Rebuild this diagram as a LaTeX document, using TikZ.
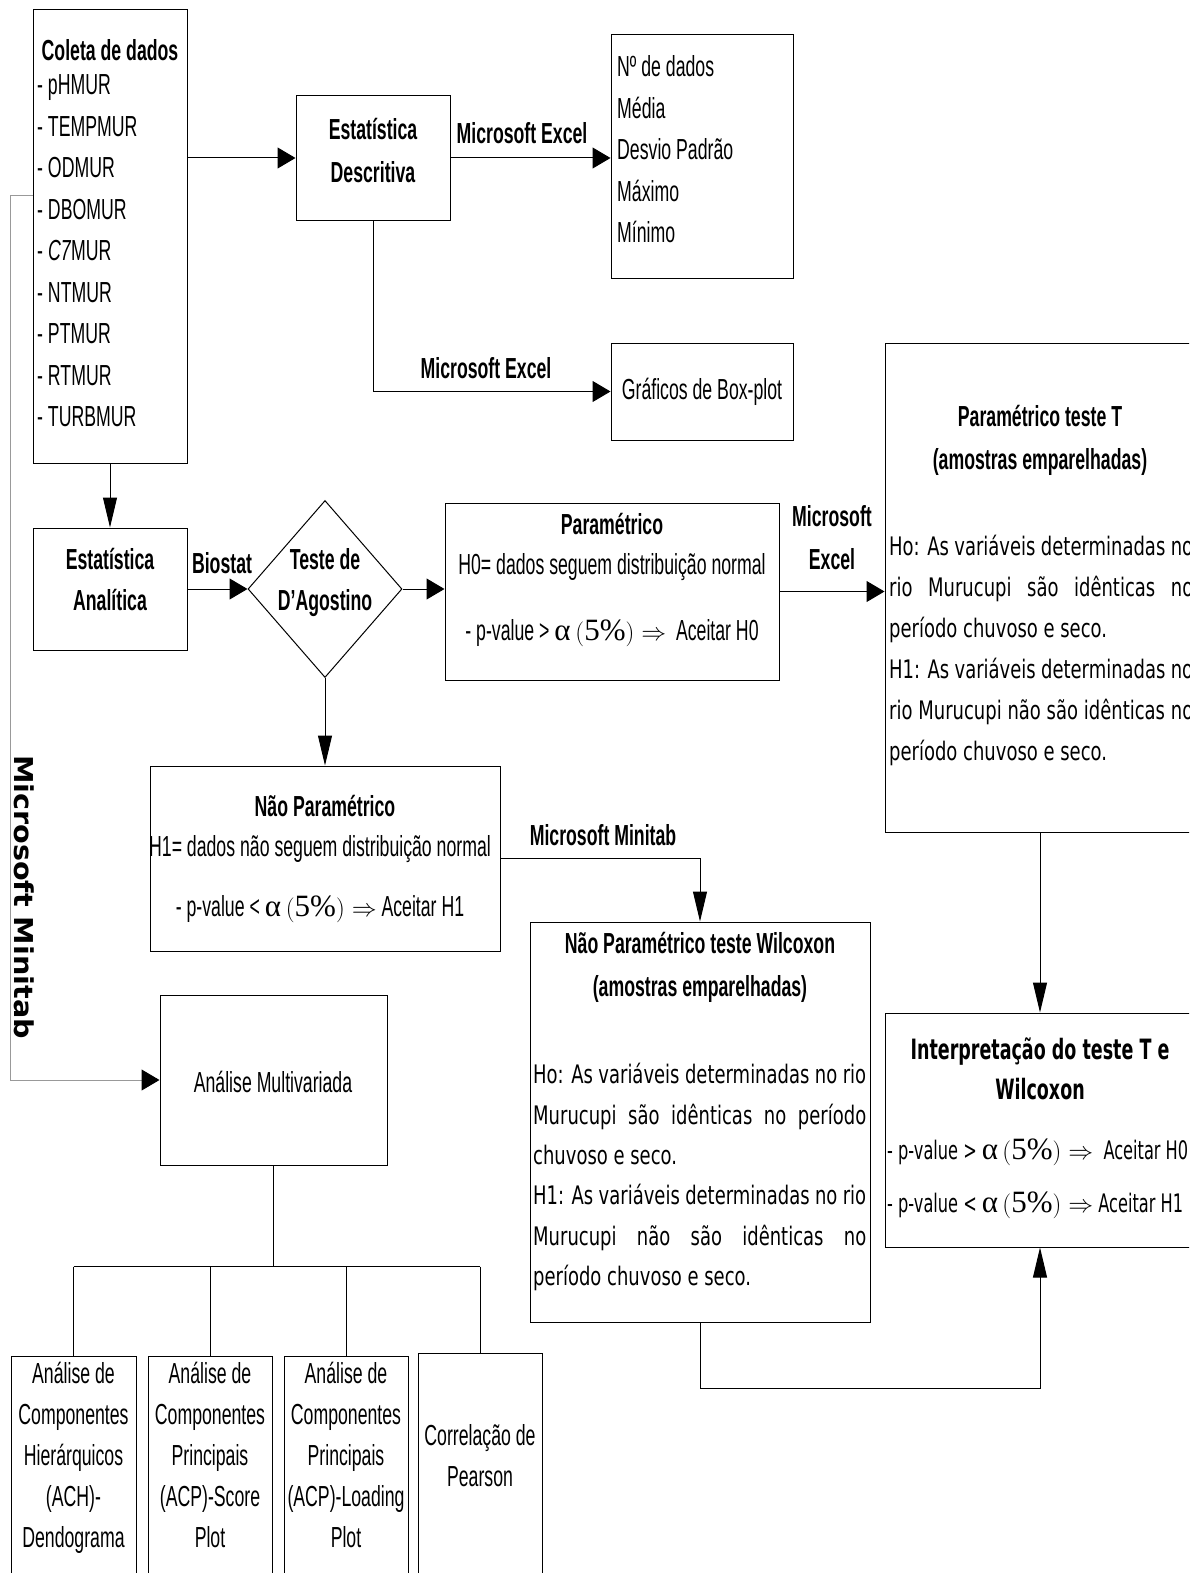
\documentclass[tikz,border=0pt]{standalone}
\usepackage{fontspec}
\setmainfont[FakeStretch=0.61]{Liberation Sans}
\newfontfamily\tahfam[FakeStretch=0.705]{DejaVu Sans}
\newfontfamily\tahnfam[FakeStretch=0.635]{DejaVu Sans}
\newfontfamily\tahbfam[FakeStretch=0.625]{DejaVu Sans}
\newfontfamily\widefam[FakeStretch=1.1]{DejaVu Sans}
\newfontfamily\tms{Liberation Serif}
\usetikzlibrary{arrows.meta,shapes.geometric}

% font shortcuts
\newcommand\fr{\fontsize{29}{34}\selectfont}
\newcommand\fb{\fontsize{29}{34}\selectfont\bfseries}
\newcommand\ft{\tahfam\fontsize{25.5}{30}\selectfont}
\newcommand\ftn{\tahnfam\fontsize{25.5}{30}\selectfont}
\newcommand\ftb{\tahbfam\bfseries\fontsize{28}{33}\selectfont}
% significance condition: alpha (5%) =>
\newcommand\pc{{\tms\fontsize{31}{34}\selectfont α}\,$\bigl(${\tms\fontsize{31}{34}\selectfont 5\%}$\bigr)\Rightarrow$}
% justified line of a given width
\newcommand\jl[2][333pt]{\makebox[#1][s]{#2}}
% a column of text lines: name, anchor, x, first y, step, font, lines
\newcommand\txtlines[7]{%
  \foreach \s [count=\k] in {#7}{%
    \node[tl,anchor=#2,font=#6] (#1-\k) at ({#3},{#4+(\k-1)*#5}) {\s};}}

\tikzset{
  box/.style={draw, rectangle, inner sep=0pt, line width=1pt},
  tl/.style={inner sep=0pt},
  ln/.style={line width=1pt},
  harr/.style={ln, -{Triangle[length=18pt,width=21pt,color=black]}},
  varr/.style={ln, -{Triangle[length=30pt,width=14pt,color=black]}},
}

\begin{document}
\begin{tikzpicture}[x=1pt,y=-1pt]
\useasboundingbox (0,0) rectangle (1189,1573);
\clip (0,0) rectangle (1189,1573);

% boxes
\node[box, minimum width=154pt, minimum height=453pt] (coleta) at (110,236.5) {};
\node[box, minimum width=154pt, minimum height=124pt] (descr) at (373,158) {};
\node[box, minimum width=182pt, minimum height=243pt] (stats) at (702,156.5) {};
\node[box, minimum width=182pt, minimum height=97pt] (boxplot) at (702,391.5) {};
\node[box, minimum width=310pt, minimum height=489pt] (tbox) at (1040,587.5) {};
\node[box, minimum width=154pt, minimum height=122pt] (analit) at (110,589) {};
\node[draw, diamond, line width=1pt, inner sep=0pt, minimum width=154pt, minimum height=177pt] (diam) at (325,589) {};
\node[box, minimum width=334pt, minimum height=177pt] (param) at (612,591.5) {};
\node[box, minimum width=350pt, minimum height=185pt] (naop) at (325,858.5) {};
\node[box, minimum width=340pt, minimum height=400pt] (wilc) at (700,1122) {};
\node[box, minimum width=310pt, minimum height=234pt] (interp) at (1040,1130) {};
\node[box, minimum width=227pt, minimum height=170pt] (multi) at (273.5,1080) {};
\node[box, minimum width=125pt, minimum height=244pt] (b1) at (73.5,1478) {};
\node[box, minimum width=124pt, minimum height=244pt] (b2) at (210,1478) {};
\node[box, minimum width=124pt, minimum height=244pt] (b3) at (346,1478) {};
\node[box, minimum width=124pt, minimum height=247pt] (b4) at (480,1476.5) {};

% texts
\node[tl,font=\fb] (coleta-t) at (110,50) {Coleta de dados};
\txtlines{col}{mid west}{37}{92}{41.5}{\fr}{{- pHMUR},{- TEMPMUR},{- ODMUR},{- DBOMUR},{- \textit{C7}MUR},{- NTMUR},{- PTMUR},{- RTMUR},{- TURBMUR}}
\txtlines{des}{mid}{373}{137}{43}{\fb}{{Estatística},{Descritiva}}
\txtlines{st}{mid west}{617}{74}{41.5}{\fr}{{Nº de dados},{Média},{Desvio Padrão},{Máximo},{Mínimo}}
\node[tl,font=\fr] (boxplot-t) at (boxplot) {Gráficos de Box-plot};
\txtlines{tt}{mid}{1040}{424}{43}{\fb}{{Paramétrico teste T},{(amostras emparelhadas)}}
\txtlines{tp}{mid west}{889}{553}{41}{\ft}{{\jl[304pt]{Ho: As variáveis determinadas no}},{\jl[304pt]{rio Murucupi são idênticas no}},{período chuvoso e seco.},{\jl[304pt]{H1: As variáveis determinadas no}},{\jl[304pt]{rio Murucupi não são idênticas no}},{período chuvoso e seco.}}
\txtlines{an}{mid}{110}{567}{41}{\fb}{{Estatística},{Analítica}}
\txtlines{dg}{mid}{325}{567}{41}{\fb}{{Teste de},{D’Agostino}}
\node[tl,font=\fb] (pa-1) at (612,524) {Paramétrico};
\node[tl,font=\fr] (pa-2) at (612,567) {H0= dados seguem distribuição normal};
\node[tl,font=\fr] (pa-3) at (612,633) {- p-value > \pc\ \ Aceitar H0};
\node[tl,font=\fb] (np-1) at (325,806) {Não Paramétrico};
\node[tl,font=\fr] (np-2) at (320,849) {H1= dados não seguem distribuição normal};
\node[tl,font=\fr] (np-3) at (320,909) {- p-value < \pc\ Aceitar H1};
\txtlines{wt}{mid}{700}{951}{43}{\fb}{{Não Paramétrico teste Wilcoxon},{(amostras emparelhadas)}}
\txtlines{wp}{mid west}{533}{1081}{40.4}{\ft}{{\jl{Ho: As variáveis determinadas no rio}},{\jl{Murucupi são idênticas no período}},{chuvoso e seco.},{\jl{H1: As variáveis determinadas no rio}},{\jl{Murucupi não são idênticas no}},{período chuvoso e seco.}}
\txtlines{it}{mid}{1040}{1057}{40}{\ftb}{{Interpretação do teste T e},{Wilcoxon}}
\txtlines{ip}{mid west}{887}{1157}{53}{\ftn}{{- p-value > \pc\ \ Aceitar H0},{- p-value < \pc\ Aceitar H1}}
\node[tl,font=\fr] (multi-t) at (273,1082) {Análise Multivariada};
\txtlines{c1}{mid}{73.5}{1381}{41}{\fr}{{Análise de},{Componentes},{Hierárquicos},{(ACH)-},{Dendograma}}
\txtlines{c2}{mid}{210}{1381}{41}{\fr}{{Análise de},{Componentes},{Principais},{(ACP)-Score},{Plot}}
\txtlines{c3}{mid}{346}{1381}{41}{\fr}{{Análise de},{Componentes},{Principais},{(ACP)-Loading},{Plot}}
\txtlines{c4}{mid}{480}{1443}{41}{\fr}{{Correlação de},{Pearson}}

% connector labels
\node[tl,font=\fb] (lab-excel1) at (522,133) {Microsoft Excel};
\node[tl,font=\fb] (lab-excel2) at (486,368) {Microsoft Excel};
\node[tl,font=\fb] (lab-biostat) at (222,563) {Biostat};
\txtlines{lab-excel3}{mid}{832}{524}{43}{\fb}{{Microsoft},{Excel}}
\node[tl,font=\fb] (lab-minitab) at (603,835) {Microsoft Minitab};
\node[tl,font=\widefam\bfseries\fontsize{26}{30}\selectfont,rotate=-90] (lab-minitab2) at (24,897) {Microsoft Minitab};

% connectors
\draw[harr] (coleta.east |- descr.west) -- (descr.west);
\draw[harr] (descr.east) -- (descr.east -| stats.west);
\draw[harr] (descr.south) |- (boxplot.west);
\draw[varr] (coleta.south) -- (analit.north);
\draw[harr] (analit.east) -- (diam.west);
\draw[harr] (diam.east) -- (diam.east -| param.west);
\draw[harr] (param.east) -- (param.east -| tbox.west);
\draw[varr] (diam.south) -- (naop.north);
\draw[varr] (naop.east) -| (wilc.north);
\draw[varr] (tbox.south) -- (interp.north);
\draw[varr] (wilc.south) -- ++(0,66) -| (interp.south);
\draw[harr, draw=gray!80] ([yshift=40.5pt]coleta.west) -- ++(-22,0) |- (multi.west);
\draw[ln] (multi.south) -- ++(0,101) coordinate (hub);
\draw[ln] (hub -| b1.north) -- (hub -| b4.north);
\foreach \b in {b1,b2,b3,b4} \draw[ln] (hub -| \b.north) -- (\b.north);
\end{tikzpicture}
\end{document}
